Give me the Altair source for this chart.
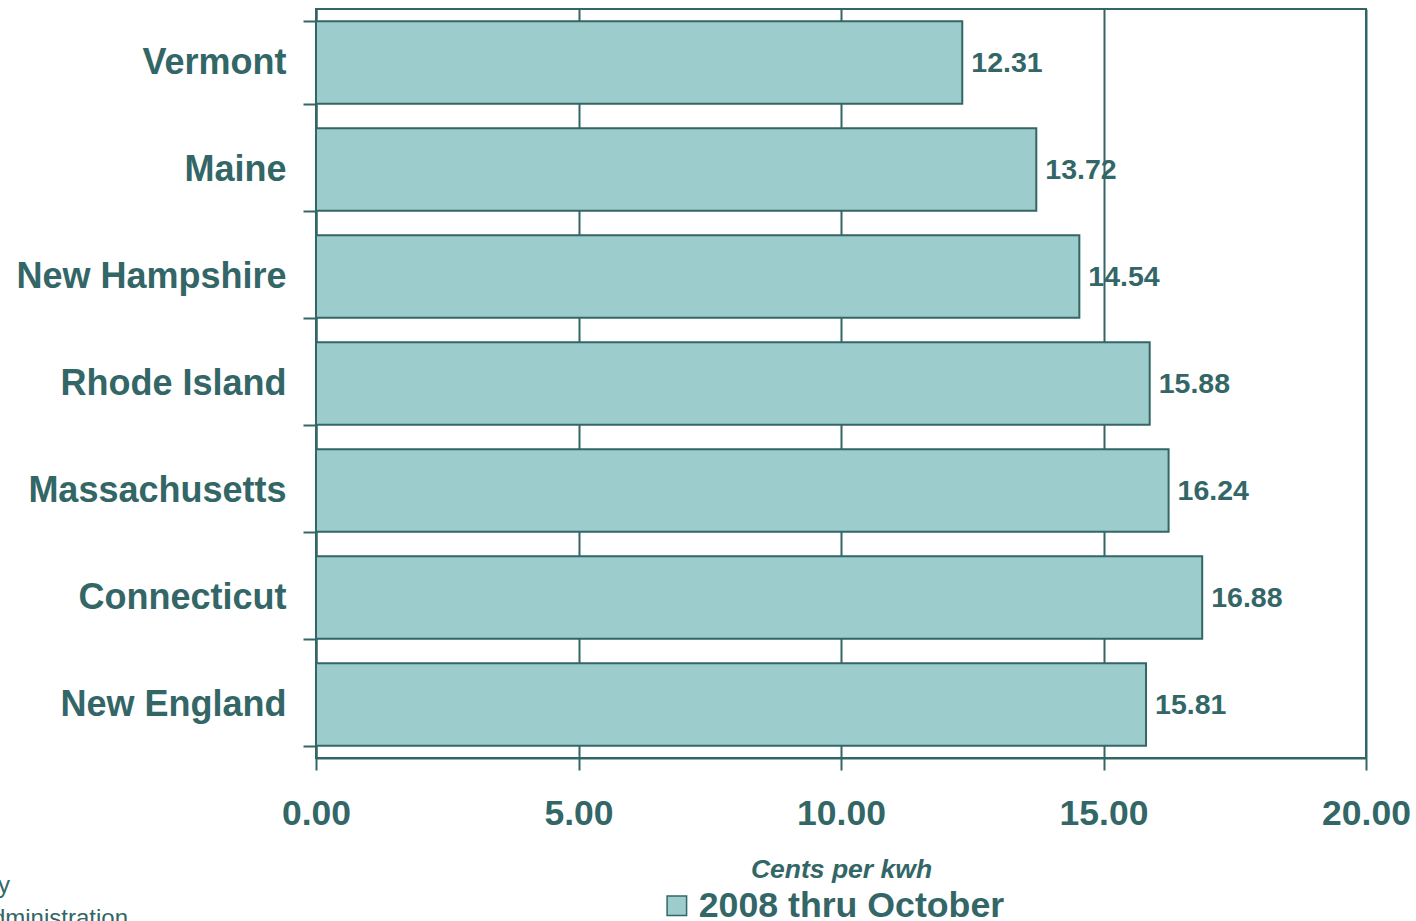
import altair as alt
import pandas as pd

states = ["Vermont", "Maine", "New Hampshire", "Rhode Island",
          "Massachusetts", "Connecticut", "New England"]
values = [12.31, 13.72, 14.54, 15.88, 16.24, 16.88, 15.81]
series_name = "2008 thru October"
x_ticks = [0, 5, 10, 15, 20]
source_line1 = "Source: U.S. Dept. of Energy"
source_line2 = "Energy Information Administration"

TEAL = "#336666"
FILL = "#9CCCCB"
FONT = "Liberation Sans"

df = pd.DataFrame({"state": states, "value": values, "series": [series_name] * len(states)})

y_enc = alt.Y("state:N", sort=states, title=None,
              scale=alt.Scale(paddingInner=0.23, paddingOuter=0.115),
              axis=alt.Axis(tickBand="extent", tickSize=13, tickWidth=2, tickColor=TEAL,
                            domainColor=TEAL, domainWidth=2, grid=False,
                            labelFont=FONT, labelFontSize=36, labelFontWeight="bold",
                            labelColor=TEAL, labelPadding=17, labelLimit=500))
x_enc = alt.X("value:Q", scale=alt.Scale(domain=[0, 20]),
              title="Cents per kwh",
              axis=alt.Axis(values=x_ticks, format=".2f", tickSize=12, tickWidth=2,
                            tickColor=TEAL, domainColor=TEAL, domainWidth=2,
                            grid=True, gridColor=TEAL, gridWidth=2, gridOpacity=1,
                            labelFont=FONT, labelFontSize=35.5, labelFontWeight="bold",
                            labelColor=TEAL, labelPadding=26, labelFlush=False,
                            titleFont=FONT, titleFontSize=26.5, titleFontStyle="italic",
                            titleFontWeight="bold", titleColor=TEAL,
                            titleBaseline="alphabetic", titleY=119))

bars = alt.Chart(df).mark_bar(stroke=TEAL, strokeWidth=2, strokeOpacity=1, opacity=1).encode(
    x=x_enc,
    y=y_enc,
    color=alt.Color("series:N", title=None,
                    scale=alt.Scale(domain=[series_name], range=[FILL]),
                    legend=alt.Legend(orient="none", legendX=343, legendY=879,
                                      symbolType="square", symbolSize=380,
                                      symbolStrokeColor=TEAL, symbolStrokeWidth=1.5,
                                      symbolFillColor=FILL,
                                      labelFont=FONT, labelFontSize=35.7,
                                      labelFontWeight="bold", labelColor=TEAL,
                                      labelOffset=4, labelLimit=600, padding=0)),
)

labels = alt.Chart(df).mark_text(align="left", baseline="middle", dx=9,
                                 font=FONT, fontSize=28.5, fontWeight="bold",
                                 color=TEAL).encode(
    x="value:Q",
    y=alt.Y("state:N", sort=states),
    text=alt.Text("value:Q", format=".2f"),
)

src1 = alt.Chart(pd.DataFrame({"line": [source_line1]})).mark_text(
    align="right", baseline="alphabetic", font=FONT, fontSize=24, color=TEAL).encode(
    x=alt.value(-306), y=alt.value(884), text="line:N")
src2 = alt.Chart(pd.DataFrame({"line": [source_line2]})).mark_text(
    align="right", baseline="alphabetic", font=FONT, fontSize=24, color=TEAL).encode(
    x=alt.value(-188), y=alt.value(917), text="line:N")

chart = alt.layer(bars, labels, src1, src2).properties(
    width=1050, height=749,
    background="white",
    padding={"left": 316, "top": 9, "right": 50, "bottom": 163},
    autosize=alt.AutoSizeParams(type="none"),
).configure_view(stroke=TEAL, strokeWidth=2)

chart.save("out.html", embed_options={"renderer": "svg", "actions": False})
